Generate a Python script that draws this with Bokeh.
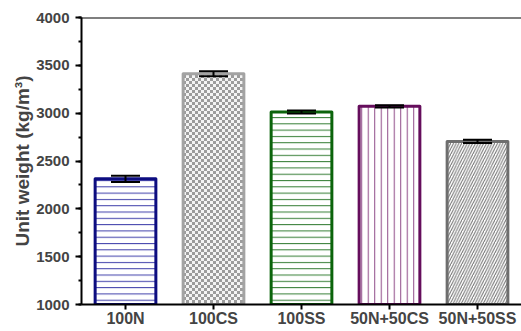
import base64, struct, zlib
from bokeh.plotting import figure
from bokeh.models import (ColumnDataSource, Whisker, TeeHead, Span, ImageURLTexture,
                          FactorRange, Range1d, SingleIntervalTicker)
from bokeh.embed import file_html
from bokeh.resources import INLINE

# ---- data ----
categories = ["100N", "100CS", "100SS", "50N+50CS", "50N+50SS"]
unit_weight = [2314, 3412, 3012, 3072, 2705]
errors = [33, 27, 15, 12, 18]
y_ticks_interval = 500

# ---- styles ----
line_colors = ["#0d0d80", "#a3a3a3", "#0b640b", "#650d5c", "#6e6e6e"]
hatch_colors = ["#3a3aa8", "#a8a8a8", "#2f7a2f", "#8e4a88", "#707070"]
hatch_patterns = ["horizontal_line", "checker", "horizontal_line", "vertical_line", "right_diagonal_line"]
hatch_scales = [6.3, 6, 6.3, 6.5, 5.5]

upper = [v + e for v, e in zip(unit_weight, errors)]
lower = [v - e for v, e in zip(unit_weight, errors)]


def checker_png(cell=3, dark=(0x9c, 0x9c, 0x9c), light=(0xf4, 0xf4, 0xf4)):
    n = cell * 2
    raw = b""
    for yy in range(n):
        row = b"\x00"
        for xx in range(n):
            c = dark if ((xx // cell) + (yy // cell)) % 2 == 0 else light
            row += bytes(c)
        raw += row

    def chunk(t, d):
        return struct.pack(">I", len(d)) + t + d + struct.pack(">I", zlib.crc32(t + d) & 0xffffffff)
    png = (b"\x89PNG\r\n\x1a\n" + chunk(b"IHDR", struct.pack(">IIBBBBB", n, n, 8, 2, 0, 0, 0))
           + chunk(b"IDAT", zlib.compress(raw)) + chunk(b"IEND", b""))
    return "data:image/png;base64," + base64.b64encode(png).decode()


src = ColumnDataSource(dict(cat=categories, val=unit_weight, upper=upper, lower=lower,
                            lc=line_colors, hc=hatch_colors, hp=hatch_patterns, hs=hatch_scales))

p = figure(x_range=FactorRange(*categories), y_range=Range1d(1000, 4000),
           width=521, height=331, output_backend="svg", toolbar_location=None,
           min_border_left=81, min_border_right=0, min_border_top=17, min_border_bottom=27)
p.outline_line_color = None
p.grid.visible = False
p.background_fill_color = "white"

checker = ImageURLTexture(url=checker_png())

p.vbar(x="cat", top="val", bottom=1000, width=0.69, source=src,
       fill_color="white", line_color="lc", line_width=3, line_join="round",
       hatch_pattern="hp", hatch_color="hc", hatch_scale="hs", hatch_weight=1,
       hatch_extra={"checker": checker})

w = Whisker(source=src, base="cat", upper="upper", lower="lower",
            line_color="black", line_width=2, level="overlay",
            upper_head=TeeHead(size=29, line_width=2, line_color="black"),
            lower_head=TeeHead(size=29, line_width=2, line_color="black"))
p.add_layout(w)

p.add_layout(Span(location=4000, dimension="width", line_color="black", line_width=2))

font = "Liberation Sans"
yax = p.yaxis[0]
yax.ticker = SingleIntervalTicker(interval=y_ticks_interval, num_minor_ticks=2)
yax.axis_label = "Unit weight (kg/m³)"
yax.axis_label_text_font = font
yax.axis_label_text_font_style = "bold"
yax.axis_label_text_font_size = "19px"
yax.axis_label_standoff = 0
yax.major_label_text_font = font
yax.major_label_text_font_style = "bold"
yax.major_label_text_font_size = "15px"
yax.major_label_standoff = 6
yax.axis_line_width = 2
yax.major_tick_line_width = 2
yax.minor_tick_line_width = 2
yax.major_tick_in = 0
yax.major_tick_out = 6
yax.minor_tick_in = 0
yax.minor_tick_out = 3

xax = p.xaxis[0]
xax.major_label_text_font = font
xax.major_label_text_font_style = "bold"
xax.major_label_text_font_size = "16px"
xax.major_label_standoff = 0
xax.axis_line_width = 2
xax.major_tick_line_width = 2
xax.major_tick_in = 0
xax.major_tick_out = 5
xax.minor_tick_line_color = None

open("out.html", "w").write(file_html(p, INLINE))
